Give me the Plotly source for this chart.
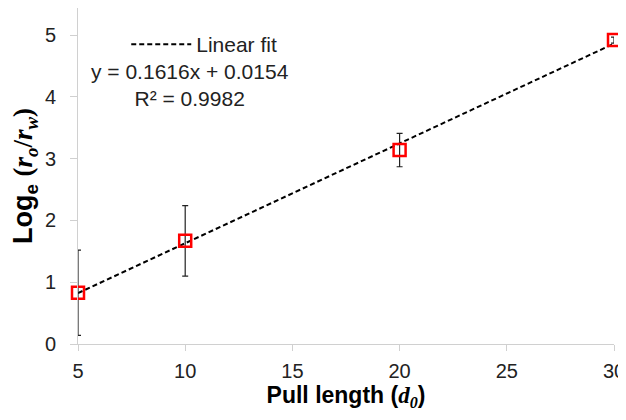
import plotly.graph_objects as go

# measured points
pull_length = [5, 10, 20, 30]
log_ratio = [0.83, 1.67, 3.14, 4.92]
err = [0.69, 0.57, 0.27, 0.05]

# linear fit reported on chart
slope = 0.1616
intercept = 0.0154
fit_x = [5, 30]
fit_y = [slope * x + intercept for x in fit_x]

serif = "Liberation Serif"

fig = go.Figure()

fig.add_trace(go.Scatter(
    x=fit_x, y=fit_y, mode='lines', name='Linear fit',
    line=dict(color='black', width=2, dash='5px,3px'),
    cliponaxis=False,
))

fig.add_trace(go.Scatter(
    x=pull_length, y=log_ratio, mode='markers', showlegend=False,
    marker=dict(symbol='square-open', size=12, color='red', line=dict(width=2.5)),
    error_y=dict(type='data', array=err, color='#222222', thickness=1.2, width=3),
    cliponaxis=False,
))

fig.add_annotation(
    x=0.209, y=0.771, xref='paper', yref='paper', showarrow=False,
    xanchor='center', yanchor='middle',
    text='y = 0.1616x + 0.0154<br>R² = 0.9982', align='center',
    font=dict(family='Liberation Sans', size=21, color='#222222'),
)

# page body adds an 8px margin, so the figure is sized to fill the rest
fig.update_layout(
    width=618, height=404,
    margin=dict(l=70, r=12, t=0, b=68, autoexpand=False),
    plot_bgcolor='white', paper_bgcolor='white',
    font=dict(family='Liberation Sans', size=20, color='#222222'),
    legend=dict(x=0.09, y=0.952, xanchor='left', yanchor='top', itemwidth=60,
                bgcolor='rgba(0,0,0,0)', font=dict(size=21)),
    xaxis=dict(
        range=[5, 30], tickvals=[5, 10, 15, 20, 25, 30], automargin=False,
        showgrid=False, zeroline=False, showline=True, linecolor='#d0d0d0',
        ticks='outside', ticklen=6, tickcolor='#d0d0d0', ticklabelstandoff=3,
        title=dict(
            text=f'<b>Pull length (<span style="font-family:{serif}"><i>d<sub>0</sub></i></span>)</b>',
            font=dict(size=23, color='black'), standoff=2),
    ),
    yaxis=dict(
        range=[0, 5.44], tickvals=[0, 1, 2, 3, 4, 5], automargin=False,
        showgrid=False, zeroline=False, showline=True, linecolor='#d0d0d0',
        ticks='outside', ticklen=7, tickcolor='#d0d0d0', ticklabelstandoff=10,
        title=dict(
            text=(f'<b>Log<sub>e</sub> <span style="font-family:{serif}">(<i>r<sub>o</sub></i>/'
                  f'<i>r<sub>w</sub></i>)</span></b>'),
            font=dict(size=27, color='black'), standoff=8),
    ),
)

fig.write_html("out.html")
